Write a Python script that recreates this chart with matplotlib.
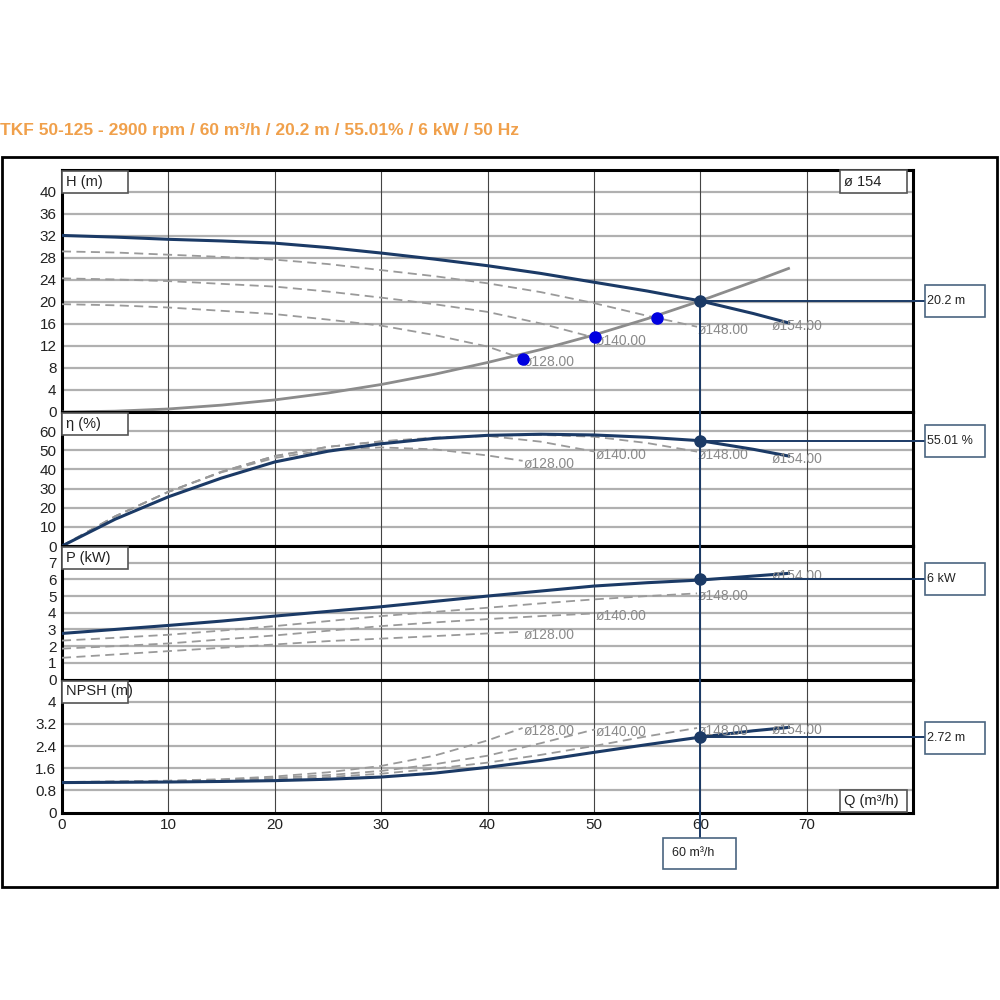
import matplotlib.pyplot as plt
from matplotlib.patches import Rectangle

plt.rcParams['font.family'] = ['Liberation Sans', 'DejaVu Sans']

# ------------------------------------------------------------------
# data
# ------------------------------------------------------------------
title = "TKF 50-125 - 2900 rpm / 60 m³/h / 20.2 m / 55.01% / 6 kW / 50 Hz"

diameters = [128, 140, 148, 154]

# flow points of each impeller curve (m³/h)
q128 = [0, 5, 10, 15, 20, 25, 30, 35, 40, 43.3]
q140 = [0, 5, 10, 15, 20, 25, 30, 35, 40, 45, 50.1]
q148 = [0, 5, 10, 15, 20, 25, 30, 35, 40, 45, 50, 55, 59.7]
q154 = [0, 5, 10, 15, 20, 25, 30, 35, 40, 45, 50, 55, 60, 65, 68.3]

# head (m)
h128 = [19.6, 19.4, 19.0, 18.4, 17.8, 16.8, 15.7, 14.0, 11.9, 9.7]
h140 = [24.3, 24.1, 23.8, 23.3, 22.8, 21.9, 20.8, 19.6, 18.2, 16.1, 13.5]
h148 = [29.2, 29.0, 28.6, 28.2, 27.7, 26.9, 25.8, 24.7, 23.4, 21.8, 19.8, 17.5, 15.5]
h154 = [32.1, 31.8, 31.4, 31.1, 30.7, 29.9, 28.9, 27.8, 26.6, 25.2, 23.6, 22.0, 20.2, 17.9, 16.2]

# efficiency (%)
e128 = [0, 15.5, 28.3, 38.5, 46.0, 50.3, 51.5, 50.5, 47.3, 44.5]
e140 = [0, 15.5, 28.3, 38.8, 47.0, 51.8, 54.6, 56.3, 57.5, 54.5, 49.3]
e148 = [0, 15.5, 28.3, 38.8, 47.0, 51.8, 54.7, 56.6, 57.7, 58.0, 57.1, 53.8, 49.3]
e154 = [0, 14.0, 25.7, 35.5, 43.9, 49.5, 53.4, 56.2, 57.8, 58.4, 58.0, 56.8, 55.01, 50.5, 47.0]

# power (kW)
p128 = [1.3, 1.5, 1.7, 1.9, 2.1, 2.3, 2.45, 2.6, 2.76, 2.86]
p140 = [1.85, 2.0, 2.16, 2.4, 2.64, 2.92, 3.2, 3.42, 3.62, 3.8, 3.96]
p148 = [2.33, 2.5, 2.68, 2.93, 3.2, 3.5, 3.8, 4.05, 4.3, 4.56, 4.8, 5.0, 5.16]
p154 = [2.76, 3.0, 3.24, 3.5, 3.8, 4.08, 4.36, 4.68, 5.0, 5.3, 5.6, 5.8, 5.96, 6.2, 6.36]

# NPSH (m)
n128 = [1.1, 1.12, 1.15, 1.2, 1.3, 1.45, 1.68, 2.05, 2.6, 3.05]
n140 = [1.1, 1.11, 1.13, 1.18, 1.25, 1.35, 1.5, 1.74, 2.05, 2.5, 3.0]
n148 = [1.1, 1.11, 1.12, 1.15, 1.2, 1.28, 1.4, 1.58, 1.8, 2.08, 2.4, 2.75, 3.05]
n154 = [1.08, 1.09, 1.1, 1.12, 1.15, 1.2, 1.28, 1.42, 1.63, 1.88, 2.17, 2.45, 2.72, 2.95, 3.07]

# system curve
q_sys = [0, 5, 10, 15, 20, 25, 30, 35, 40, 45, 50, 55, 60, 65, 68.3]
h_sys = [0, 0.15, 0.55, 1.25, 2.2, 3.45, 5.0, 6.85, 9.0, 11.35, 14.0, 16.95, 20.2, 23.7, 26.1]

# intersections of smaller impellers with the system curve
q_cross = [43.3, 50.1, 55.9]
h_cross = [9.7, 13.6, 17.1]

# duty point
q_op = 60
h_op = 20.2
eta_op = 55.01
p_op = 6
npsh_op = 2.72

q_all = [q128, q140, q148, q154]
panels = [
    dict(curves=[h128, h140, h148, h154], op=h_op, ylim=44, ticks=list(range(0, 41, 4)),
         name="H (m)", top=170, bottom=412),
    dict(curves=[e128, e140, e148, e154], op=eta_op, ylim=70, ticks=list(range(0, 61, 10)),
         name="η (%)", top=412, bottom=546),
    dict(curves=[p128, p140, p148, p154], op=p_op, ylim=8, ticks=list(range(0, 8)),
         name="P (kW)", top=546, bottom=679.5),
    dict(curves=[n128, n140, n148, n154], op=npsh_op, ylim=4.8, ticks=[0, 0.8, 1.6, 2.4, 3.2, 4],
         name="NPSH (m)", top=679.5, bottom=812.5),
]

# ------------------------------------------------------------------
# styles
# ------------------------------------------------------------------
NAVY = '#1b3a66'
DASH = '#9a9a9a'
TXT = '#222222'
W, H = 1000, 1000
X0, X1 = 62, 913          # pixel span of the plot area

fig = plt.figure(figsize=(10, 10), dpi=100)


def fx(px):
    return px / W


def fy(py):
    return 1 - py / H


def box(x0, y0, x1, y1, text, size=10, edge='#555555', pad=4):
    fig.patches.append(Rectangle((fx(x0), fy(y1)), fx(x1 - x0), (y1 - y0) / H,
                                 transform=fig.transFigure, facecolor='white',
                                 edgecolor=edge, lw=1.2, zorder=20))
    fig.text(fx(x0 + pad), fy((y0 + y1) / 2), text, fontsize=size, color=TXT,
             ha='left', va='center', zorder=21)


# outer frame
fig.patches.append(Rectangle((fx(2), fy(887)), fx(995), 730 / H, transform=fig.transFigure,
                             fill=False, edgecolor='black', lw=2))

fig.text(0.0, fy(130), title, color='#f0a04b', fontsize=12.5, fontweight='bold',
         ha='left', va='center')

axes = []
for i, pn in enumerate(panels):
    ax = fig.add_axes([fx(X0), fy(pn['bottom']), fx(X1 - X0), (pn['bottom'] - pn['top']) / H])
    axes.append(ax)
    ax.set_xlim(0, 80)
    ax.set_ylim(0, pn['ylim'])
    ax.set_yticks(pn['ticks'])
    ax.set_yticklabels([f"{t:g}" for t in pn['ticks']])
    ax.set_xticks(range(0, 80, 10))
    if i < len(panels) - 1:
        ax.set_xticklabels([])
    ax.tick_params(length=0, labelsize=11, labelcolor=TXT, pad=4)
    for y in pn['ticks'][1:]:
        ax.axhline(y, color='#b0b0b0', lw=1.6, zorder=0)
    for x in range(10, 80, 10):
        ax.axvline(x, color='#444444', lw=0.8, zorder=0)
    for s in ax.spines.values():
        s.set_linewidth(2.2)
        s.set_color('black')

    # impeller curves
    for d, q, v in zip(diameters, q_all, pn['curves']):
        if d == diameters[-1]:
            ax.plot(q, v, color=NAVY, lw=2.2, zorder=4)
        else:
            ax.plot(q, v, color=DASH, lw=1.3, dashes=(5, 3), zorder=3)
        lx = q[-1] - (1.6 if d == diameters[-1] else -0.1)
        ax.annotate(f"ø{d:.2f}", xy=(lx, v[-1]), xytext=(0, -3), textcoords='offset pixels',
                    fontsize=10, color='#8a8a8a', ha='left', va='center', zorder=5)

    # duty point and leader to the value box
    ax.plot([q_op], [pn['op']], 'o', color=NAVY, ms=8, zorder=7)
    ax.plot([q_op, 81.2], [pn['op'], pn['op']], color=NAVY, lw=1.4, clip_on=False, zorder=6)
    v_top = pn['op'] if i == 0 else pn['ylim']
    v_bot = 0 if i < len(panels) - 1 else -0.9
    ax.plot([q_op, q_op], [v_bot, v_top], color=NAVY, lw=1.4, clip_on=False, zorder=6)

# system curve and crossing points on the head panel
axes[0].plot(q_sys, h_sys, color='#8c8c8c', lw=2, zorder=3)
axes[0].plot(q_cross, h_cross, 'o', color='#0000e0', ms=8, zorder=6)

# panel name boxes
for pn in panels:
    box(X0, pn['top'] + 1, 128, pn['top'] + 23, pn['name'], size=10.5)
box(840, 170, 907, 193, "ø 154", size=10.5)
box(840, 790, 907, 812, "Q (m³/h)", size=10.5)

# value boxes
vals = [f"{h_op} m", f"{eta_op} %", f"{p_op} kW", f"{npsh_op} m"]
centers = [301, 441, 579, 738]
for txt, c in zip(vals, centers):
    box(925, c - 16, 985, c + 16, txt, size=9, edge='#4a6580', pad=2)
box(663, 838, 736, 869, f"{q_op} m³/h", size=9, edge='#4a6580', pad=9)

plt.savefig("out.png", dpi=100)
